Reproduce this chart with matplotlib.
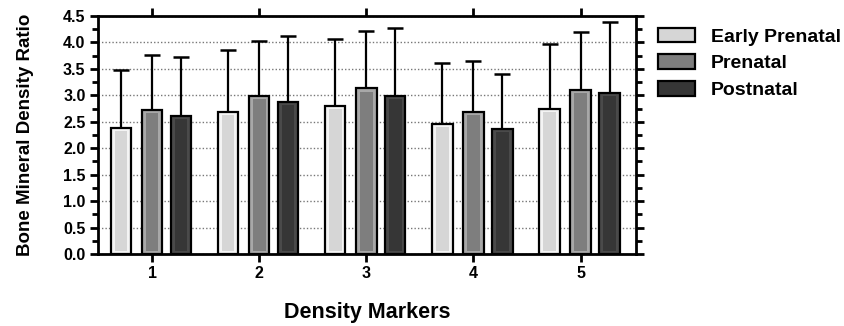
import numpy as np
import matplotlib
matplotlib.use("Agg")
import matplotlib.pyplot as plt
from matplotlib.ticker import MultipleLocator
from matplotlib.patches import Patch

plt.rcParams['font.family'] = ['Liberation Sans', 'DejaVu Sans']
plt.rcParams['font.weight'] = 'bold'

# ── Data ──────────────────────────────────────────────────────────────────────
markers = ["1", "2", "3", "4", "5"]
series = ["Early Prenatal", "Prenatal", "Postnatal"]
early_mean = [2.39, 2.68, 2.80, 2.46, 2.75]
early_err = [1.08, 1.17, 1.27, 1.15, 1.22]
pre_mean = [2.72, 2.99, 3.13, 2.68, 3.10]
pre_err = [1.04, 1.04, 1.09, 0.97, 1.10]
post_mean = [2.61, 2.88, 2.99, 2.36, 3.04]
post_err = [1.12, 1.25, 1.29, 1.04, 1.34]

means = [early_mean, pre_mean, post_mean]
errs = [early_err, pre_err, post_err]
outer = ["#f4f4f4", "#a8a8a8", "#4a4a4a"]
inner = ["#d6d6d6", "#7e7e7e", "#363636"]

# ── Plot ──────────────────────────────────────────────────────────────────────
fig = plt.figure(figsize=(8.45, 3.26), dpi=100)
ax = fig.add_axes([0.116, 0.221, 0.637, 0.730])

x = np.arange(1, len(markers) + 1)
offsets = [-0.29, 0.0, 0.27]
width = 0.19

for i in range(3):
    xi = x + offsets[i]
    ax.errorbar(xi, means[i], yerr=[np.zeros(5), errs[i]], fmt="none",
                ecolor="black", elinewidth=1.6, capsize=5.5, capthick=1.8, zorder=2)
    ax.bar(xi, means[i], width=width, color=outer[i], edgecolor="black",
           linewidth=1.6, zorder=3)
    ax.bar(xi, np.array(means[i]) - 0.12, bottom=0.06, width=width * 0.62,
           color=inner[i], linewidth=0, zorder=4)

ax.set_xlim(0.495, 5.52)
ax.set_ylim(0, 4.5)
ax.set_xticks(x)
ax.set_xticklabels(markers, fontsize=11.5, fontweight="bold")
ax.yaxis.set_major_locator(MultipleLocator(0.5))
ax.yaxis.set_minor_locator(MultipleLocator(0.25))
ax.set_yticklabels([f"{v:.1f}" for v in ax.get_yticks()], fontsize=11.5, fontweight="bold")
ax.tick_params(axis="y", which="major", direction="out", length=6, width=2,
               right=True, pad=3)
ax.tick_params(axis="y", which="minor", direction="out", length=4, width=2, right=True)
ax.tick_params(axis="x", which="major", direction="out", length=6, width=2, top=True, pad=3)

ax.yaxis.grid(True, linestyle=(0, (1, 1.5)), color="#777777", linewidth=1.0, zorder=0)
ax.set_axisbelow(True)
for s in ax.spines.values():
    s.set_linewidth(2)

ax.set_ylabel("Bone Mineral Density Ratio", fontsize=13.5, fontweight="bold", labelpad=21)
ax.set_xlabel("Density Markers", fontsize=15.5, fontweight="bold", labelpad=15)

handles = [Patch(facecolor=inner[i], edgecolor="black", linewidth=1.6) for i in range(3)]
fig.legend(handles, series, loc="upper left", bbox_to_anchor=(0.779, 0.915),
           frameon=False, handlelength=1.9, handleheight=0.77, borderpad=0,
           labelspacing=0.45, handletextpad=0.8, borderaxespad=0,
           prop={"weight": "bold", "size": 14})

fig.savefig("out.png", dpi=100)
